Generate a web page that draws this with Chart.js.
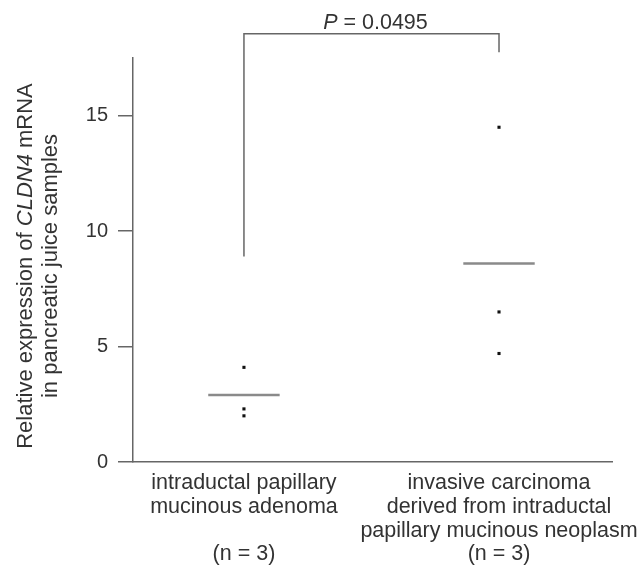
<!DOCTYPE html>
<html>
<head>
<meta charset="utf-8">
<script src="https://cdn.jsdelivr.net/npm/chart.js@4.4.1/dist/chart.umd.min.js"></script>
<style>
  html, body { margin: 0; padding: 0; background: #fff; }
  #wrap { width: 640px; height: 571px; position: relative; }
</style>
</head>
<body>
<div id="wrap"><canvas id="c"></canvas></div>
<script>
// data
const groups = [
  ['intraductal papillary', 'mucinous adenoma', '', '(n = 3)'],
  ['invasive carcinoma', 'derived from intraductal', 'papillary mucinous neoplasm', '(n = 3)']
];
const adenomaValues = [4.1, 2.3, 2.0];
const carcinomaValues = [14.5, 6.5, 4.7];
const medians = [2.9, 8.6];
const yTicks = [0, 5, 10, 15];
const pLabel = '0.0495';
// bracket: left leg bottom, top bar, right leg bottom (y units)
const bracketLevels = [8.9, 18.55, 17.75];

const FONT = '"Liberation Sans", Arial, sans-serif';
const TEXT = '#333';
const AXIS = '#666';

const halfWidth = 0.14;
const medianSets = medians.map((m, i) => ({
  type: 'line',
  data: [{ x: i + 1 - halfWidth, y: m }, { x: i + 1 + halfWidth, y: m }],
  borderColor: '#8a8a8a',
  borderWidth: 2.5,
  pointRadius: 0,
  fill: false
}));

const pointSet = (vals, xi) => ({
  type: 'scatter',
  data: vals.map(v => ({ x: xi, y: v })),
  backgroundColor: '#111',
  borderColor: '#111',
  pointStyle: 'rect',
  pointRadius: 2.2,
  borderWidth: 0
});

const extras = {
  id: 'extras',
  afterDraw(chart) {
    const { ctx, chartArea, scales: { x, y } } = chart;
    ctx.save();
    // significance bracket
    const x1 = x.getPixelForValue(1), x2 = x.getPixelForValue(2);
    const top = y.getPixelForValue(bracketLevels[1]);
    ctx.strokeStyle = AXIS;
    ctx.lineWidth = 1.5;
    ctx.beginPath();
    ctx.moveTo(x1, y.getPixelForValue(bracketLevels[0]));
    ctx.lineTo(x1, top);
    ctx.lineTo(x2, top);
    ctx.lineTo(x2, y.getPixelForValue(bracketLevels[2]));
    ctx.stroke();

    // P value text
    ctx.fillStyle = TEXT;
    ctx.textBaseline = 'alphabetic';
    const italic = 'italic 21.5px ' + FONT, normal = '21.5px ' + FONT;
    ctx.font = italic;
    const wP = ctx.measureText('P').width;
    ctx.font = normal;
    const rest = ' = ' + pLabel;
    const wR = ctx.measureText(rest).width;
    let sx = (x1 + x2) / 2 + 4 - (wP + wR) / 2;
    const by = top - 5;
    ctx.font = italic; ctx.textAlign = 'left';
    ctx.fillText('P', sx, by);
    ctx.font = normal;
    ctx.fillText(rest, sx + wP, by);

    // y axis title with italic gene name
    const t1 = 'italic 22px ' + FONT, t0 = '22px ' + FONT;
    const cy = (chartArea.top + chartArea.bottom) / 2 + 6;
    ctx.translate(0, cy);
    ctx.rotate(-Math.PI / 2);
    const parts = [['Relative expression of ', t0], ['CLDN4', t1], [' mRNA', t0]];
    let total = 0;
    parts.forEach(p => { ctx.font = p[1]; total += ctx.measureText(p[0]).width; });
    let px = -total / 2;
    parts.forEach(p => {
      ctx.font = p[1];
      ctx.fillText(p[0], px, 32);
      px += ctx.measureText(p[0]).width;
    });
    ctx.font = t0;
    ctx.textAlign = 'center';
    ctx.fillText('in pancreatic juice samples', 0, 57);
    ctx.restore();
  }
};

new Chart(document.getElementById('c'), {
  data: {
    datasets: [
      pointSet(adenomaValues, 1),
      pointSet(carcinomaValues, 2),
      ...medianSets
    ]
  },
  options: {
    responsive: true,
    maintainAspectRatio: false,
    animation: false,
    layout: { padding: { top: 58, right: 28, left: 0, bottom: 0 } },
    plugins: { legend: { display: false }, tooltip: { enabled: false } },
    scales: {
      x: {
        type: 'linear',
        min: 0.565,
        max: 2.443,
        afterBuildTicks: s => { s.ticks = groups.map((g, i) => ({ value: i + 1 })); },
        afterFit: s => { s.height = 109; s.paddingLeft = 0; s.paddingRight = 0; },
        grid: { display: false },
        border: { display: true, color: AXIS, width: 1.5 },
        ticks: {
          autoSkip: false,
          maxRotation: 0,
          padding: 1,
          color: TEXT,
          font: { family: FONT, size: 21.5, lineHeight: 1.11 },
          callback: v => groups[v - 1]
        }
      },
      y: {
        type: 'linear',
        min: 0,
        max: 17.5,
        afterBuildTicks: s => { s.ticks = yTicks.map(v => ({ value: v })); },
        afterFit: s => { s.width = 133; },
        grid: { drawOnChartArea: false, drawTicks: true, tickLength: 15, color: AXIS, lineWidth: 1.5 },
        border: { display: true, color: AXIS, width: 1.5 },
        ticks: {
          padding: 10,
          color: TEXT,
          font: { family: FONT, size: 20 }
        }
      }
    }
  },
  plugins: [extras]
});
</script>
</body>
</html>
